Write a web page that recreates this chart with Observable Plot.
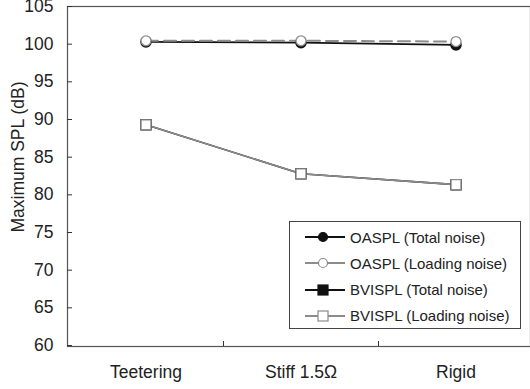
<!DOCTYPE html>
<html>
<head>
<meta charset="utf-8">
<script src="https://cdn.jsdelivr.net/npm/d3@7"></script>
<script src="https://cdn.jsdelivr.net/npm/@observablehq/plot@0.6"></script>
<style>
  body { margin: 0; background: #fff; font-family: "Liberation Sans", Arial, sans-serif; }
  #wrap { position: relative; width: 530px; height: 389px; overflow: hidden; }
  #ylabel { position: absolute; left: 18px; top: 157px; transform: translate(-50%, -50%) rotate(-90deg);
            font-size: 17.5px; color: #222; white-space: nowrap; }
  #legend { position: absolute; left: 289px; top: 221px; width: 232px; height: 108px;
            border: 1px solid #444; background: #fff; box-sizing: border-box; }
  #legend .row { position: absolute; left: 0; height: 20px; display: flex; align-items: center; }
  #legend .row span { font-size: 15px; color: #222; margin-left: 4px; white-space: nowrap; }
</style>
</head>
<body>
<div id="wrap">
  <div id="chart"></div>
  <div id="ylabel">Maximum SPL (dB)</div>
  <div id="legend"></div>
</div>
<script>
const categories = ["Teetering", "Stiff 1.5Ω", "Rigid"];
const oasplTotal = [100.3, 100.2, 99.9];
const oasplLoading = [100.45, 100.45, 100.35];
const bvisplTotal = [89.3, 82.8, 81.35];
const bvisplLoading = [89.3, 82.8, 81.35];
const yTicks = [60, 65, 70, 75, 80, 85, 90, 95, 100, 105];
const seriesNames = ["OASPL (Total noise)", "OASPL (Loading noise)", "BVISPL (Total noise)", "BVISPL (Loading noise)"];

const toRows = (vals) => categories.map((c, i) => ({cat: c, v: vals[i]}));
const oT = toRows(oasplTotal), oL = toRows(oasplLoading), bT = toRows(bvisplTotal), bL = toRows(bvisplLoading);

const gray = "#8c8c8c";
const chart = Plot.plot({
  width: 530,
  height: 389,
  marginLeft: 67,
  marginRight: 0,
  marginTop: 6,
  marginBottom: 43,
  style: {fontFamily: "Liberation Sans, Arial, sans-serif", fontSize: "17.5px", color: "#222", background: "#fff", overflow: "visible"},
  x: {type: "band", domain: categories, range: [68, 533], padding: 0},
  y: {domain: [60, 105], range: [345, 6]},
  marks: [
    Plot.frame({stroke: "#555", strokeWidth: 1.2}),
    // y labels
    Plot.axisY(yTicks, {tickSize: 0, tickPadding: 14, label: null, fontSize: 17.5}),
    // inward y ticks
    Plot.axisY(yTicks, {tickSize: 5, dx: 5, text: null, label: null, stroke: "#333"}),
    // x labels
    Plot.axisX(categories, {tickSize: 0, tickPadding: 19, label: null, fontSize: 17.5}),
    // inward x ticks at category boundaries
    Plot.axisX(categories.slice(0, 2), {tickSize: 5, dy: -5, dx: 77.5, text: null, label: null, stroke: "#333"}),
    // BVISPL
    Plot.line(bT, {x: "cat", y: "v", stroke: "#111", strokeWidth: 1.6}),
    Plot.line(bL, {x: "cat", y: "v", stroke: gray, strokeWidth: 1.6}),
    Plot.dot(bT, {x: "cat", y: "v", symbol: "square", r: 5.6, fill: "#111", stroke: "#111"}),
    Plot.dot(bL, {x: "cat", y: "v", symbol: "square", r: 5.6, fill: "#fff", stroke: gray, strokeWidth: 1.3}),
    // OASPL
    Plot.line(oT, {x: "cat", y: "v", stroke: "#111", strokeWidth: 1.8}),
    Plot.line(oL, {x: "cat", y: "v", stroke: gray, strokeWidth: 2, strokeDasharray: "12,6"}),
    Plot.dot(oT, {x: "cat", y: "v", symbol: "circle", r: 5, fill: "#111", stroke: "#111"}),
    Plot.dot(oL, {x: "cat", y: "v", symbol: "circle", r: 5, fill: "#fff", stroke: gray, strokeWidth: 1.3})
  ]
});
document.getElementById("chart").appendChild(chart);

// legend
const styles = [
  {line: "#111", fill: "#111", stroke: "#111", shape: "circle"},
  {line: gray, fill: "#fff", stroke: gray, shape: "circle"},
  {line: "#111", fill: "#111", stroke: "#111", shape: "square"},
  {line: gray, fill: "#fff", stroke: gray, shape: "square"}
];
const leg = document.getElementById("legend");
seriesNames.forEach((name, i) => {
  const s = styles[i];
  const row = document.createElement("div");
  row.className = "row";
  row.style.top = (5 + i * 26.3) + "px";
  const marker = s.shape === "circle"
    ? `<circle cx="18" cy="10" r="4.5" fill="${s.fill}" stroke="${s.stroke}" stroke-width="1.2"/>`
    : `<rect x="13" y="5" width="10" height="10" fill="${s.fill}" stroke="${s.stroke}" stroke-width="1.2"/>`;
  row.innerHTML = `<svg width="56" height="20" style="display:block"><line x1="15" x2="55" y1="10" y2="10" stroke="${s.line}" stroke-width="1.8"/><g transform="translate(15,0)">${marker}</g></svg><span>${name}</span>`;
  leg.appendChild(row);
});
</script>
</body>
</html>
